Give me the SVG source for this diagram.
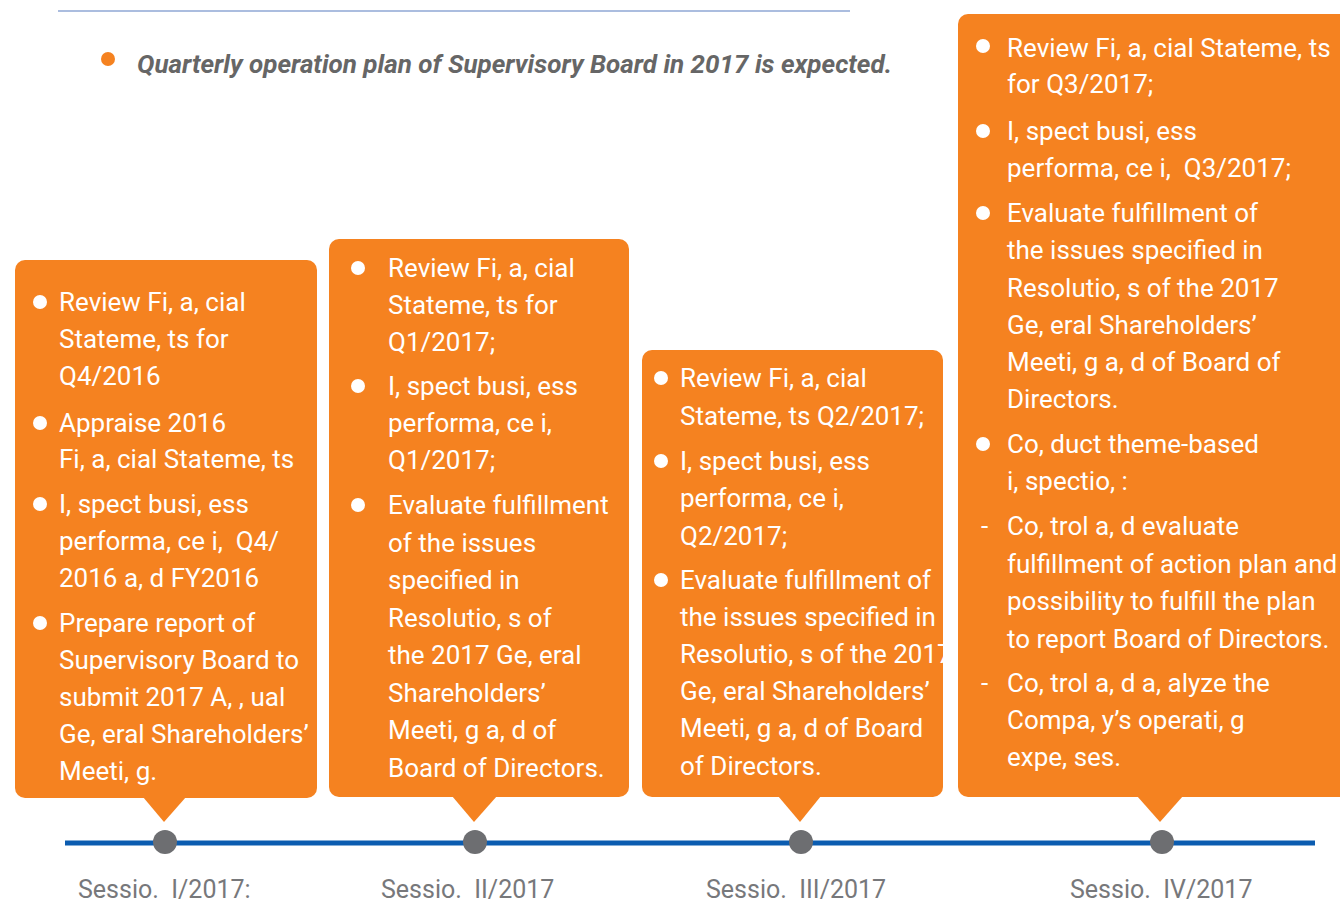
<svg xmlns="http://www.w3.org/2000/svg" width="1340" height="902" viewBox="0 0 1340 902">
  <style>
    .box { fill: #f58220; }
    .t { font-family: Roboto, "Liberation Sans", sans-serif; font-size: 26px; fill: #ffffff; }
    .dot { fill: #ffffff; }
    .lbl { font-family: Roboto, "Liberation Sans", sans-serif; font-size: 25px; fill: #77787b; }
    .pin { fill: #6d6e71; }
    .title { font-family: Roboto, "Liberation Sans", sans-serif; font-size: 26px; font-weight: bold; font-style: italic; fill: #666666; }
  </style>

  <rect width="1340" height="902" fill="#ffffff"/>

  <!-- header rule and caption -->
  <g id="header">
    <line x1="58" y1="11" x2="850" y2="11" stroke="#8fa7d4" stroke-width="1.5"/>
    <circle cx="108" cy="59" r="7" fill="#f58220"/>
    <text class="title" x="137" y="73">Quarterly operation plan of Supervisory Board in 2017 is expected.</text>
  </g>

  <!-- timeline -->
  <g id="connectors">
    <line x1="65" y1="843" x2="1315" y2="843" stroke="#0b5cb0" stroke-width="5"/>
    <circle class="pin" cx="165" cy="842" r="12"/>
    <circle class="pin" cx="475" cy="842" r="12"/>
    <circle class="pin" cx="801" cy="842" r="12"/>
    <circle class="pin" cx="1162" cy="842" r="12"/>
  </g>

  <!-- session I -->
  <g id="session1">
    <rect class="box" x="15" y="260" width="302" height="538" rx="10"/>
    <polygon class="box" points="143,797 186,797 164,822"/>
    <circle class="dot" cx="40" cy="302" r="7"/>
    <circle class="dot" cx="40" cy="423" r="7"/>
    <circle class="dot" cx="40" cy="504" r="7"/>
    <circle class="dot" cx="40" cy="623" r="7"/>
    <text class="t">
      <tspan x="59" y="311">Review Fi, a, cial</tspan>
      <tspan x="59" y="348">Stateme, ts for</tspan>
      <tspan x="59" y="385">Q4/2016</tspan>
      <tspan x="59" y="432">Appraise 2016</tspan>
      <tspan x="59" y="468">Fi, a, cial Stateme, ts</tspan>
      <tspan x="59" y="513">I, spect busi, ess</tspan>
      <tspan x="59" y="550">performa, ce i,&#160; Q4/</tspan>
      <tspan x="59" y="587">2016 a, d FY2016</tspan>
      <tspan x="59" y="632">Prepare report of</tspan>
      <tspan x="59" y="669">Supervisory Board to</tspan>
      <tspan x="59" y="706">submit 2017 A, , ual</tspan>
      <tspan x="59" y="743">Ge, eral Shareholders’</tspan>
      <tspan x="59" y="780">Meeti, g.</tspan>
    </text>
    <text class="lbl" x="78" y="898">Sessio.&#160; I/2017:</text>
  </g>

  <!-- session II -->
  <g id="session2">
    <rect class="box" x="329" y="239" width="300" height="558" rx="10"/>
    <polygon class="box" points="452,796 497,796 474,822"/>
    <circle class="dot" cx="358" cy="268" r="7"/>
    <circle class="dot" cx="358" cy="386" r="7"/>
    <circle class="dot" cx="358" cy="505" r="7"/>
    <text class="t">
      <tspan x="388" y="277">Review Fi, a, cial</tspan>
      <tspan x="388" y="314">Stateme, ts for</tspan>
      <tspan x="388" y="351">Q1/2017;</tspan>
      <tspan x="388" y="395">I, spect busi, ess</tspan>
      <tspan x="388" y="432">performa, ce i,</tspan>
      <tspan x="388" y="469">Q1/2017;</tspan>
      <tspan x="388" y="514">Evaluate fulfillment</tspan>
      <tspan x="388" y="552">of the issues</tspan>
      <tspan x="388" y="589">specified in</tspan>
      <tspan x="388" y="627">Resolutio, s of</tspan>
      <tspan x="388" y="664">the 2017 Ge, eral</tspan>
      <tspan x="388" y="702">Shareholders’</tspan>
      <tspan x="388" y="739">Meeti, g a, d of</tspan>
      <tspan x="388" y="777">Board of Directors.</tspan>
    </text>
    <text class="lbl" x="381" y="898">Sessio.&#160; II/2017</text>
  </g>

  <!-- session III -->
  <g id="session3">
    <rect class="box" x="642" y="350" width="301" height="447" rx="10"/>
    <polygon class="box" points="778,796 821,796 800,822"/>
    <circle class="dot" cx="661" cy="378" r="7"/>
    <circle class="dot" cx="661" cy="461" r="7"/>
    <circle class="dot" cx="661" cy="580" r="7"/>
    <text class="t">
      <tspan x="680" y="387">Review Fi, a, cial</tspan>
      <tspan x="680" y="425">Stateme, ts Q2/2017;</tspan>
      <tspan x="680" y="470">I, spect busi, ess</tspan>
      <tspan x="680" y="507">performa, ce i,</tspan>
      <tspan x="680" y="545">Q2/2017;</tspan>
      <tspan x="680" y="589">Evaluate fulfillment of</tspan>
      <tspan x="680" y="626">the issues specified in</tspan>
      <tspan x="680" y="663">Resolutio, s of the 2017</tspan>
      <tspan x="680" y="700">Ge, eral Shareholders’</tspan>
      <tspan x="680" y="737">Meeti, g a, d of Board</tspan>
      <tspan x="680" y="775">of Directors.</tspan>
    </text>
    <text class="lbl" x="706" y="898">Sessio.&#160; III/2017</text>
  </g>

  <!-- session IV -->
  <g id="session4">
    <rect class="box" x="958" y="14" width="400" height="783" rx="10"/>
    <polygon class="box" points="1137,796 1183,796 1160,822"/>
    <circle class="dot" cx="983" cy="46" r="7"/>
    <circle class="dot" cx="983" cy="131" r="7"/>
    <circle class="dot" cx="983" cy="213" r="7"/>
    <circle class="dot" cx="983" cy="444" r="7"/>
    <text class="t">
      <tspan x="1007" y="57">Review Fi, a, cial Stateme, ts</tspan>
      <tspan x="1007" y="93">for Q3/2017;</tspan>
      <tspan x="1007" y="140">I, spect busi, ess</tspan>
      <tspan x="1007" y="177">performa, ce i,&#160; Q3/2017;</tspan>
      <tspan x="1007" y="222">Evaluate fulfillment of</tspan>
      <tspan x="1007" y="259">the issues specified in</tspan>
      <tspan x="1007" y="297">Resolutio, s of the 2017</tspan>
      <tspan x="1007" y="334">Ge, eral Shareholders’</tspan>
      <tspan x="1007" y="371">Meeti, g a, d of Board of</tspan>
      <tspan x="1007" y="408">Directors.</tspan>
      <tspan x="1007" y="453">Co, duct theme-based</tspan>
      <tspan x="1007" y="490">i, spectio, :</tspan>
      <tspan x="981" y="535">-</tspan>
      <tspan x="1007" y="535">Co, trol a, d evaluate</tspan>
      <tspan x="1007" y="573">fulfillment of action plan and</tspan>
      <tspan x="1007" y="610">possibility to fulfill the plan</tspan>
      <tspan x="1007" y="648">to report Board of Directors.</tspan>
      <tspan x="981" y="692">-</tspan>
      <tspan x="1007" y="692">Co, trol a, d a, alyze the</tspan>
      <tspan x="1007" y="729">Compa, y’s operati, g</tspan>
      <tspan x="1007" y="766">expe, ses.</tspan>
    </text>
    <text class="lbl" x="1070" y="898">Sessio.&#160; IV/2017</text>
  </g>
</svg>
